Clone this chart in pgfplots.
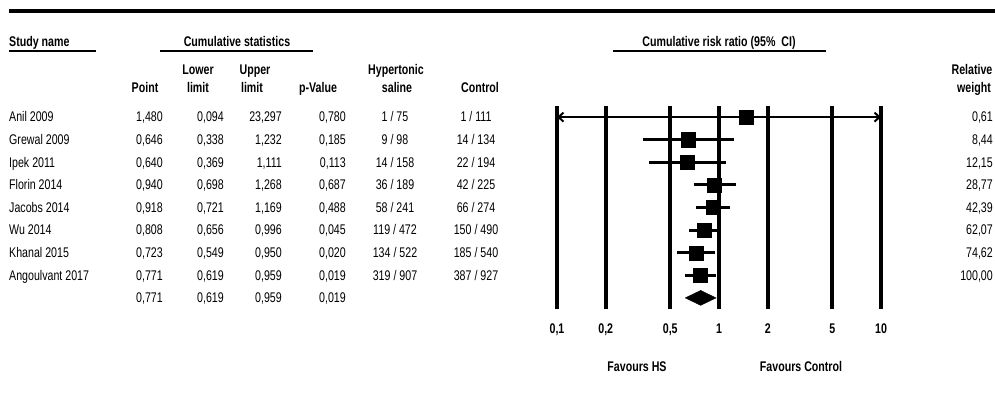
\documentclass[border=0pt]{standalone}
\usepackage{fontspec}
\setmainfont{Liberation Sans}[FakeStretch=0.76]
\usepackage{pgfplots}
\pgfplotsset{compat=1.18}
\usepackage{pgfplotstable}
\usetikzlibrary{arrows.meta}

\pgfplotstableread{
row est lo hi
0 1.480 0.094 23.297
-1 0.646 0.338 1.232
-2 0.640 0.369 1.111
-3 0.940 0.698 1.268
-4 0.918 0.721 1.169
-5 0.808 0.656 0.996
-6 0.723 0.549 0.950
-7 0.771 0.619 0.959
}\studies

% #1 y-centre (px), #2 name, #3 point, #4 lower, #5 upper, #6 p, #7 HS, #8 control, #9 weight
\newcommand\datarow[9]{%
  \node[anchor=base west,inner sep=0pt] at (9pt,{-(#1+5)*1pt}) {#2};
  \node[anchor=base east,inner sep=0pt] at (163pt,{-(#1+5)*1pt}) {#3};
  \node[anchor=base east,inner sep=0pt] at (224pt,{-(#1+5)*1pt}) {#4};
  \node[anchor=base east,inner sep=0pt] at (282pt,{-(#1+5)*1pt}) {#5};
  \node[anchor=base east,inner sep=0pt] at (346pt,{-(#1+5)*1pt}) {#6};
  \node[anchor=base,inner sep=0pt] at (395pt,{-(#1+5)*1pt}) {#7};
  \node[anchor=base,inner sep=0pt] at (476pt,{-(#1+5)*1pt}) {#8};
  \node[anchor=base east,inner sep=0pt] at (993pt,{-(#1+5)*1pt}) {#9};
}

\begin{document}
\fontsize{14}{16}\selectfont
\begin{tikzpicture}
\path[use as bounding box] (0pt,0pt) rectangle (995pt,-403pt);
\draw[line width=3.5pt] (9pt,-11pt) -- (995pt,-11pt);

% group headers
\node[anchor=base west,inner sep=0pt,font=\bfseries] at (9pt,-47pt) {Study name};
\draw[line width=1.3pt] (9pt,-51pt) -- (96pt,-51pt);
\node[anchor=base,inner sep=0pt,font=\bfseries] at (237pt,-47pt) {Cumulative statistics};
\draw[line width=1.3pt] (160pt,-51pt) -- (313pt,-51pt);
\node[anchor=base,inner sep=0pt,font=\bfseries] at (719pt,-47pt) {Cumulative risk ratio (95\%\ \ CI)};
\draw[line width=1.3pt] (613pt,-51pt) -- (826pt,-51pt);

% column headers
\begin{scope}[every node/.style={inner sep=0pt,font=\bfseries}]
\node[anchor=base] at (145pt,-93pt) {Point};
\node[anchor=base] at (198pt,-75pt) {Lower};
\node[anchor=base] at (198pt,-93pt) {limit};
\node[anchor=base] at (255pt,-75pt) {Upper};
\node[anchor=base] at (252pt,-93pt) {limit};
\node[anchor=base] at (318pt,-93pt) {p-Value};
\node[anchor=base] at (396pt,-75pt) {Hypertonic};
\node[anchor=base] at (397pt,-93pt) {saline};
\node[anchor=base] at (480pt,-93pt) {Control};
\node[anchor=base] at (972pt,-75pt) {Relative};
\node[anchor=base] at (974pt,-93pt) {weight};
\end{scope}

% data rows
\datarow{117}{Anil 2009}{1,480}{0,094}{23,297}{0,780}{1 / 75}{1 / 111}{0,61}
\datarow{139.6}{Grewal 2009}{0,646}{0,338}{1,232}{0,185}{9 / 98}{14 / 134}{8,44}
\datarow{162.2}{Ipek 2011}{0,640}{0,369}{1,111}{0,113}{14 / 158}{22 / 194}{12,15}
\datarow{184.8}{Florin 2014}{0,940}{0,698}{1,268}{0,687}{36 / 189}{42 / 225}{28,77}
\datarow{207.4}{Jacobs 2014}{0,918}{0,721}{1,169}{0,488}{58 / 241}{66 / 274}{42,39}
\datarow{230}{Wu 2014}{0,808}{0,656}{0,996}{0,045}{119 / 472}{150 / 490}{62,07}
\datarow{252.6}{Khanal 2015}{0,723}{0,549}{0,950}{0,020}{134 / 522}{185 / 540}{74,62}
\datarow{275.2}{Angoulvant 2017}{0,771}{0,619}{0,959}{0,019}{319 / 907}{387 / 927}{100,00}
\datarow{297.8}{}{0,771}{0,619}{0,959}{0,019}{}{}{}

\node[anchor=base,inner sep=0pt,font=\bfseries] at (637pt,-371pt) {Favours HS};
\node[anchor=base,inner sep=0pt,font=\bfseries] at (801pt,-371pt) {Favours Control};

\begin{axis}[
  at={(557pt,-309.2pt)}, anchor=south west,
  scale only axis, width=324pt, height=203.4pt,
  xmode=log, xmin=0.1, xmax=10, ymin=-8.5, ymax=0.5,
  xtick={0.1,0.2,0.5,1,2,5,10},
  xticklabels={{\textbf{0,1}},{\textbf{0,2}},{\textbf{0,5}},{\textbf{1}},{\textbf{2}},{\textbf{5}},{\textbf{10}}},
  xticklabel style={font=\bfseries, yshift=-9.5pt},
  ytick=\empty, major tick length=0pt, xminorticks=false,
  xmajorgrids, major grid style={black, line width=3.8pt},
  axis line style={draw=none},
  clip=false,
]
\addplot[black, line width=2pt, {Straight Barb[length=5pt,width=9pt]}-{Straight Barb[length=5pt,width=9pt]}] coordinates {(0.1,0) (10,0)};
\addplot[black, line width=3pt] coordinates {(0.338,-1) (1.232,-1)};
\addplot[black, line width=3pt] coordinates {(0.369,-2) (1.111,-2)};
\addplot[black, line width=3pt] coordinates {(0.698,-3) (1.268,-3)};
\addplot[black, line width=3pt] coordinates {(0.721,-4) (1.169,-4)};
\addplot[black, line width=3pt] coordinates {(0.656,-5) (0.996,-5)};
\addplot[black, line width=3pt] coordinates {(0.549,-6) (0.950,-6)};
\addplot[black, line width=3pt] coordinates {(0.619,-7) (0.959,-7)};
\addplot[only marks, mark=square*, mark size=7pt, black] table[x=est, y=row] {\studies};
\addplot[black, fill=black] coordinates {(0.619,-8) (0.771,-7.67) (0.959,-8) (0.771,-8.33)} -- cycle;
\end{axis}
\end{tikzpicture}
\end{document}
